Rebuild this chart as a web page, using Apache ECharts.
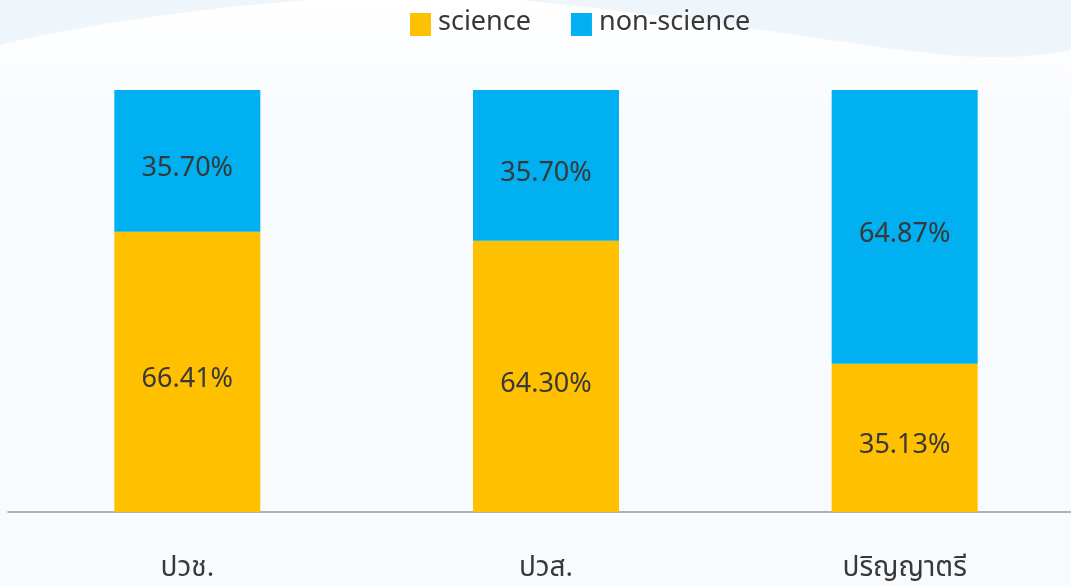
<!DOCTYPE html>
<html>
<head>
<meta charset="utf-8">
<title>science / non-science</title>
<script src="https://cdn.jsdelivr.net/npm/echarts@6/dist/echarts.min.js"></script>
<style>
  html, body { margin: 0; padding: 0; background: #fff; }
  #chart { width: 1071px; height: 585px; }
</style>
</head>
<body>
<div id="chart"></div>
<script>
// หมวดระดับการศึกษา
const categories = ['ปวช.', 'ปวส.', 'ปริญญาตรี']
const seriesNames = ['science', 'non-science']

// ความสูงของแท่ง (อ่านจากภาพ)
const scienceValues = [66.41, 64.30, 35.13]
const nonScienceValues = [33.59, 35.70, 64.87]

// ข้อความที่แสดงในแท่ง
const scienceLabels = ['66.41%', '64.30%', '35.13%']
const nonScienceLabels = ['35.70%', '35.70%', '64.87%']

const FONT = '"Noto Sans Thai", "Noto Sans", "Open Sans", sans-serif'

const chart = echarts.init(document.getElementById('chart'))

// 背景波浪：三次贝塞尔采样成多边形点
const bezier = (p0, p1, p2, p3, n = 24) => {
  const pts = []
  for (let i = 0; i <= n; i++) {
    const t = i / n, u = 1 - t
    pts.push([
      u * u * u * p0[0] + 3 * u * u * t * p1[0] + 3 * u * t * t * p2[0] + t * t * t * p3[0],
      u * u * u * p0[1] + 3 * u * u * t * p1[1] + 3 * u * t * t * p2[1] + t * t * t * p3[1]
    ])
  }
  return pts
}
const waveLeft = [[0, 0], ...bezier([310, 0], [200, 8], [80, 25], [0, 45])]
const waveRight = [[1071, 0], [1071, 50],
  ...bezier([1071, 50], [1040, 57], [1000, 58], [960, 56]),
  ...bezier([960, 56], [860, 48], [760, 25], [520, 0])]

const labelStyle = (texts) => ({
  show: true,
  position: 'inside',
  offset: [0, 10],
  color: '#383838',
  fontSize: 27,
  fontFamily: FONT,
  formatter: (p) => texts[p.dataIndex]
})

chart.setOption({
  backgroundColor: '#f8fbfe',
  graphic: {
    elements: [
      {
        type: 'rect', z: -20, silent: true,
        shape: { x: 0, y: 0, width: 1071, height: 120 },
        style: {
          fill: {
            type: 'linear', x: 0, y: 0, x2: 0, y2: 1,
            colorStops: [{ offset: 0, color: '#ffffff' }, { offset: 1, color: '#f8fbfe' }]
          }
        }
      },
      { type: 'polygon', z: -10, silent: true, shape: { points: waveLeft }, style: { fill: '#eef6fc' } },
      { type: 'polygon', z: -10, silent: true, shape: { points: waveRight }, style: { fill: '#eef6fc' } }
    ]
  },
  legend: {
    data: seriesNames,
    top: 11,
    left: 410,
    padding: 0,
    itemWidth: 21,
    itemHeight: 23,
    itemGap: 40,
    icon: 'rect',
    textStyle: { fontSize: 27, color: '#383838', fontFamily: FONT, padding: [0, 0, 0, 2] }
  },
  grid: {
    left: 8, width: 1076, top: 90, bottom: 73,
    containLabel: false,
    outerBoundsMode: 'none'
  },
  xAxis: {
    type: 'category',
    data: categories,
    axisLine: { lineStyle: { color: '#999', width: 1.5 } },
    axisTick: { show: false },
    axisLabel: { fontSize: 28, color: '#383838', fontFamily: FONT, margin: 44 }
  },
  yAxis: {
    type: 'value',
    min: 0,
    max: 100,
    show: false
  },
  series: [
    {
      name: 'science',
      type: 'bar',
      stack: 'total',
      barWidth: 146,
      data: scienceValues,
      itemStyle: { color: '#ffc000' },
      label: labelStyle(scienceLabels)
    },
    {
      name: 'non-science',
      type: 'bar',
      stack: 'total',
      barWidth: 146,
      data: nonScienceValues,
      itemStyle: { color: '#00b0f0' },
      label: labelStyle(nonScienceLabels)
    }
  ]
})
</script>
</body>
</html>
